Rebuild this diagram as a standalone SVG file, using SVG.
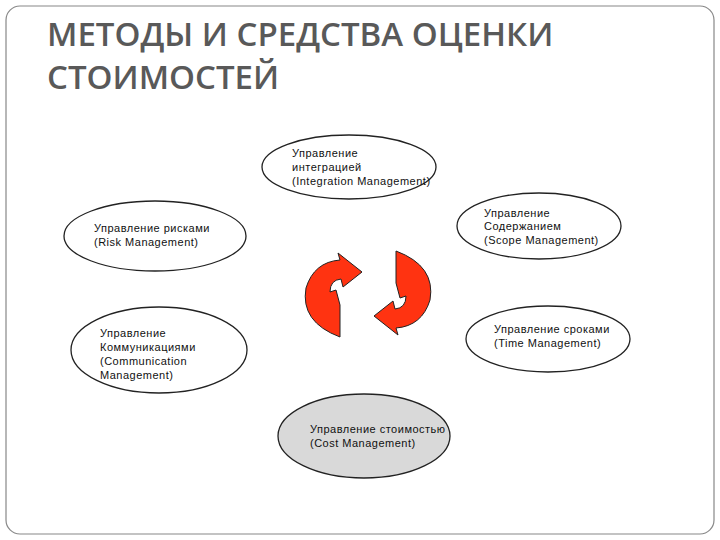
<svg xmlns="http://www.w3.org/2000/svg" width="720" height="540" viewBox="0 0 720 540">
<style>
.t{font-family:"Liberation Sans",Arial,sans-serif;font-size:11px;letter-spacing:0.5px;fill:#111}
.e{fill:#fff;stroke:#222;stroke-width:1.3}
.h{font-family:"Open Sans","Liberation Sans",sans-serif;font-size:33px;font-weight:600;fill:#595959}
.a{fill:#ff3311;stroke:#222;stroke-width:1}
</style>
<rect x="0" y="0" width="720" height="540" fill="#fff"/>
<rect x="6" y="6" width="708" height="528" rx="14" fill="none" stroke="#888" stroke-width="1.2"/>
<text class="h" x="47" y="46">МЕТОДЫ И СРЕДСТВА ОЦЕНКИ</text>
<text class="h" x="47" y="89">СТОИМОСТЕЙ</text>
<g id="connectors">
<path class="a" d="M340,337 Q300,322 306,288 Q314,262 340,260 L338,253 L362,272 L343,287 L341,279 Q330,280 330,292 L336,290 L340,305 Z"/>
<path class="a" transform="rotate(180 368 294)" d="M340,337 Q300,322 306,288 Q314,262 340,260 L338,253 L362,272 L343,287 L341,279 Q330,280 330,292 L336,290 L340,305 Z"/>
</g>
<g id="integration"><ellipse class="e" cx="349" cy="167" rx="87" ry="32"/>
<text class="t" x="292" y="157">Управление</text><text class="t" x="292" y="171">интеграцией</text><text class="t" x="292" y="185">(Integration Management)</text></g>
<g id="scope"><ellipse class="e" cx="539" cy="226" rx="82" ry="33"/>
<text class="t" x="484" y="217">Управление</text><text class="t" x="484" y="230">Содержанием</text><text class="t" x="484" y="244">(Scope Management)</text></g>
<g id="risk"><ellipse class="e" cx="155" cy="236" rx="91" ry="35"/>
<text class="t" x="94" y="232">Управление рисками</text><text class="t" x="94" y="246">(Risk Management)</text></g>
<g id="time"><ellipse class="e" cx="548" cy="339" rx="82" ry="33"/>
<text class="t" x="494" y="333">Управление сроками</text><text class="t" x="494" y="347">(Time Management)</text></g>
<g id="communication"><ellipse class="e" cx="159" cy="350" rx="88" ry="43"/>
<text class="t" x="100" y="337">Управление</text><text class="t" x="100" y="351">Коммуникациями</text><text class="t" x="100" y="365">(Communication</text><text class="t" x="100" y="379">Management)</text></g>
<g id="cost"><ellipse class="e" cx="364" cy="436" rx="86" ry="42" style="fill:#d9d9d9"/>
<text class="t" x="310" y="433">Управление стоимостью</text><text class="t" x="310" y="447">(Cost Management)</text></g>
</svg>
